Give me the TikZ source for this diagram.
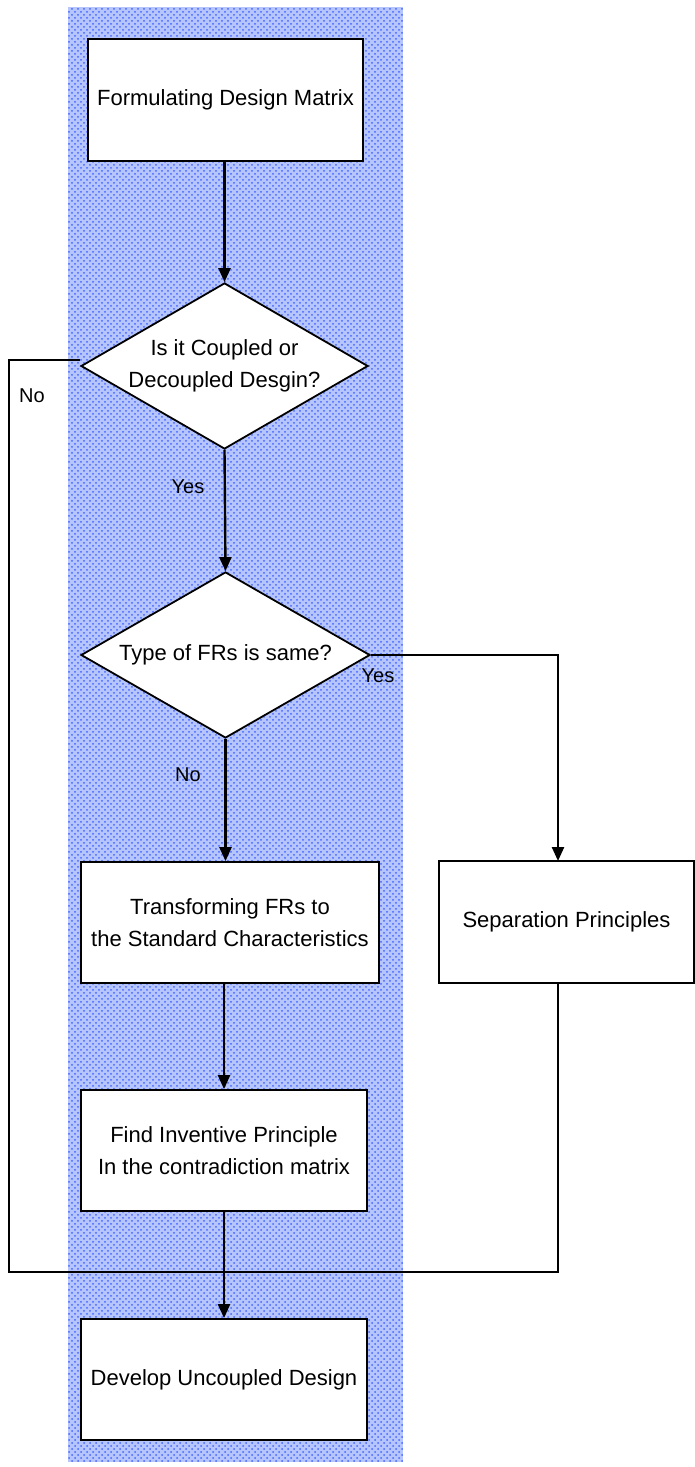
\documentclass[tikz,border=0pt]{standalone}
\usepackage{fontspec}
\setmainfont{Liberation Sans}
\usetikzlibrary{arrows.meta,shapes.geometric,patterns}
\definecolor{bandbg}{RGB}{182,198,252}
\definecolor{banddot}{RGB}{70,100,255}
\begin{document}
\begin{tikzpicture}[x=0.5pt,y=-0.5pt,
  box/.style={draw,line width=0.9pt,fill=white,inner sep=0pt,align=center,
    font=\fontsize{11}{16}\selectfont},
  dia/.style={diamond,draw,line width=0.9pt,fill=white,inner sep=0pt,align=center,
    aspect=1.73,font=\fontsize{11}{16}\selectfont},
  flow/.style={line width=1.2pt,-{Triangle[width=6pt,length=7pt]}},
  link/.style={line width=0.7pt},
  lbl/.style={font=\fontsize{10}{12}\selectfont,inner sep=0pt}]
\useasboundingbox (0,0) rectangle (695,1467);
% hatched background band
\fill[bandbg] (68,7) rectangle (403,1462);
\fill[pattern=crosshatch dots,pattern color=banddot] (68,7) rectangle (403,1462);
% nodes
\node[box,minimum width=137.5pt,minimum height=61pt] (b1) at (225.5,100) {Formulating Design Matrix};
\node[dia,minimum width=143.5pt,minimum height=83pt] (d1) at (224.5,366) {Is it Coupled or\\Decoupled Desgin?};
\node[dia,minimum width=144.5pt,minimum height=83pt] (d2) at (225.5,655) {Type of FRs is same?};
\node[box,minimum width=149pt,minimum height=60.5pt] (tr) at (230,922.5) {Transforming FRs to\\the Standard Characteristics};
\node[box,minimum width=143pt,minimum height=60.5pt] (fi) at (224,1150.5) {Find Inventive Principle\\In the contradiction matrix};
\node[box,minimum width=143pt,minimum height=60.5pt] (dv) at (224,1379.5) {Develop Uncoupled Design};
\node[box,minimum width=127.5pt,minimum height=61pt] (sp) at (566.5,922) {Separation Principles};
% labels
\node[lbl] (ly1) at (188,487) {Yes};
\node[lbl] (ln1) at (32,396) {No};
\node[lbl] (ly2) at (378,676) {Yes};
\node[lbl] (ln2) at (188,775) {No};
% helper coordinates
\coordinate (nostart) at ([yshift=3pt]d1.west);
\coordinate (septop) at (558,861);
\coordinate (sepbot) at (558,983);
\coordinate (joinL) at (9,1272);
\coordinate (joinR) at (558,1272);
% connectors
\draw[flow] (d1.north |- b1.south) -- (d1.north);
\draw[flow] (d1.south) -- (d2.north);
\draw[flow] (d2.south) -- (d2.south |- tr.north);
\draw[flow] (fi.north |- tr.south) -- (fi.north);
\draw[flow] (fi.south) -- (dv.north);
\draw[flow] (d2.east) -| (septop);
\draw[link] (nostart) -| (joinL) -- (joinR) -- (sepbot);
\end{tikzpicture}
\end{document}
